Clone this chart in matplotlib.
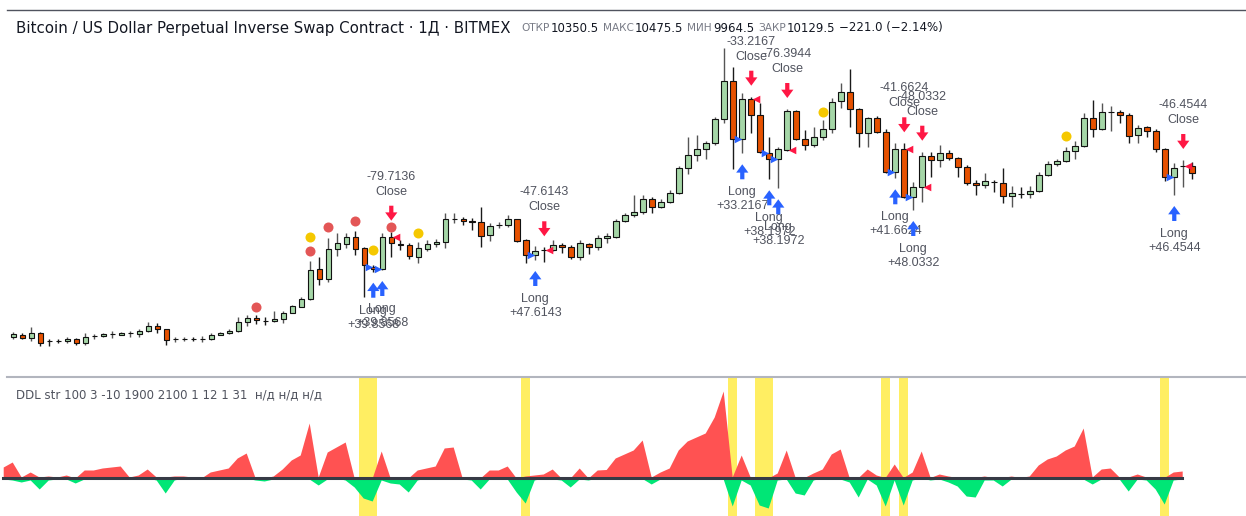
import matplotlib
matplotlib.use('Agg')
import matplotlib.pyplot as plt
import numpy as np
from matplotlib.lines import Line2D
from matplotlib.transforms import offset_copy

plt.rcParams['font.family'] = ['Liberation Sans', 'DejaVu Sans']

W, H = 1246, 516

# daily XBTUSD candles
opens = [5044, 5124, 5022, 5186, 4929, 4944, 4920, 4982, 4858, 5078,
         5084, 5140, 5124, 5162, 5146, 5230, 5394, 5292, 4976, 4997,
         5003, 4997, 5000, 5124, 5168, 5230, 5518, 5642, 5564, 5540,
         5602, 5806, 5992, 6222, 7161, 6851, 7781, 7936, 8153, 7812,
         7223, 7161, 8153, 7936, 7905, 7542, 7781, 7936, 7998, 8696,
         8720, 8658, 8618, 8206, 8510, 8516, 8702, 8060, 7586, 7750,
         7750, 7896, 7852, 7542, 7936, 7834, 8122, 8153, 8640, 8826,
         8928, 9322, 9074, 9238, 9508, 10292, 10704, 10872, 11058, 11802,
         12998, 11182, 12422, 11926, 10766, 10562, 10850, 12050, 11182, 11014,
         11244, 11510, 12360, 12648, 12130, 11368, 11842, 11418, 10177, 10872,
         9402, 9694, 10664, 10540, 10748, 10593, 10332, 9827, 9756, 9858,
         9836, 9424, 9490, 9477, 9570, 10075, 10416, 10518, 10828, 10983,
         11851, 11501, 12037, 12037, 11935, 11315, 11554, 11439, 10872, 10022,
         10340, 10350.5]
highs = [5208, 5168, 5363, 5208, 5000, 5000, 5044, 5022, 5168, 5146,
         5168, 5248, 5208, 5230, 5292, 5518, 5478, 5310, 5062, 5062,
         5053, 5084, 5168, 5208, 5292, 5682, 5726, 5726, 5664, 5868,
         5868, 6054, 6302, 7409, 7533, 8122, 8277, 8286, 8339, 7843,
         7285, 8268, 8317, 8060, 7967, 7998, 8060, 8100, 8888, 8888,
         8782, 8742, 9092, 8578, 8618, 8826, 8720, 8082, 7874, 7834,
         8060, 7976, 7896, 8060, 7958, 8206, 8286, 8702, 8888, 9446,
         9464, 9402, 9322, 9610, 10354, 11262, 11306, 11138, 11864, 14012,
         13414, 12608, 12502, 12298, 11244, 10952, 12121, 12090, 11470, 11554,
         11780, 12452, 12936, 13352, 12152, 11873, 11904, 11510, 11058, 11058,
         9867, 10797, 10797, 11005, 10850, 10633, 10385, 9920, 10128, 9920,
         10283, 9734, 9712, 9734, 10168, 10509, 10580, 10934, 11129, 11988,
         12400, 12298, 12223, 12090, 11988, 11625, 11594, 11492, 10912, 10438,
         10540, 10475.5]
lows = [4991, 5000, 4929, 4774, 4774, 4858, 4876, 4796, 4814, 5000,
        5062, 5022, 5106, 5062, 5062, 5208, 5186, 4814, 4898, 4929,
        4929, 4898, 4960, 5100, 5146, 5208, 5394, 5456, 5416, 5518,
        5478, 5788, 5974, 6200, 6665, 6758, 7564, 7803, 7595, 6293,
        7077, 7130, 7524, 7750, 7471, 7347, 7719, 7852, 7812, 8578,
        8516, 8370, 7852, 8020, 8432, 8472, 7998, 7338, 7440, 7378,
        7728, 7648, 7480, 7440, 7626, 7750, 7976, 8122, 8618, 8764,
        8866, 8888, 9052, 9207, 9486, 10106, 10500, 10562, 10996, 11678,
        10270, 10748, 11386, 10748, 9942, 9663, 10828, 11160, 10850, 10952,
        11160, 11368, 12152, 11572, 10952, 10934, 11377, 10128, 9973, 9353,
        8990, 9247, 10022, 10332, 10540, 10022, 9765, 9446, 9663, 9557,
        9216, 9074, 9353, 9353, 9548, 10053, 10354, 10487, 10562, 10952,
        11262, 11470, 11439, 11696, 11076, 11076, 11262, 10797, 9898, 9455,
        9712, 9964.5]
closes = [5146, 5022, 5186, 4876, 4914, 4929, 5000, 4858, 5062, 5084,
          5146, 5146, 5186, 5168, 5230, 5394, 5292, 4960, 4982, 5000,
          5000, 5000, 5124, 5186, 5230, 5518, 5642, 5580, 5558, 5602,
          5806, 6014, 6240, 7130, 6851, 7781, 7967, 8153, 7781, 7285,
          7161, 8153, 7967, 7920, 7564, 7812, 7936, 7998, 8702, 8702,
          8658, 8618, 8184, 8494, 8516, 8702, 8038, 7586, 7710, 7741,
          7914, 7834, 7542, 7958, 7834, 8122, 8184, 8649, 8826, 8928,
          9322, 9074, 9238, 9508, 10292, 10704, 10872, 11058, 11802, 12998,
          11182, 12422, 11926, 10788, 10580, 10872, 12050, 11182, 11014, 11244,
          11510, 12338, 12648, 12130, 11368, 11842, 11418, 10177, 10872, 9402,
          9694, 10664, 10540, 10748, 10593, 10332, 9818, 9765, 9880, 9849,
          9424, 9508, 9486, 9570, 10075, 10407, 10518, 10828, 10983, 11851,
          11501, 12019, 12040, 11935, 11284, 11541, 11439, 10872, 10022, 10283,
          10350, 10129.5]

# marker dots above the bars (0-based bar index, price level)
red_dot_bars = [27, 33, 35, 38, 42]
red_dot_prices = [5983, 7719, 8463, 8649, 8463]
yellow_dot_bars = [33, 40, 45, 90, 117]
yellow_dot_prices = [8153, 7750, 8277, 12028, 11284]

# strategy signals
long_bars = [40, 41, 58, 81, 84, 85, 98, 100, 129]
long_texts = ['+39.8568', '+39.8568', '+47.6143', '+33.2167', '+38.1972',
              '+38.1972', '+41.6624', '+48.0332', '+46.4544']
close_bars = [42, 59, 82, 86, 99, 101, 130]
close_texts = ['-79.7136', '-47.6143', '-33.2167', '-76.3944', '-41.6624',
               '-48.0332', '-46.4544']

# DDL indicator, lower pane
ddl_up = [1.1, 1.6, 0.1, 0.6, 0.1, 0.2, 0.1, 0.3, 0.0, 0.8,
          0.8, 1.0, 1.1, 1.2, 0.1, 0.3, 0.9, 0.1, 0.1, 0.2,
          0.2, 0.1, 0.0, 0.6, 0.8, 1.0, 2.0, 2.5, 0.0, 0.0,
          0.2, 0.9, 1.8, 2.3, 5.5, 0.1, 2.6, 3.1, 3.6, 0.0,
          0.0, 0.0, 2.7, 0.0, 0.0, 0.0, 0.8, 1.0, 1.2, 3.0,
          3.1, 0.0, 0.0, 0.0, 0.8, 0.8, 1.2, 0.0, 0.2, 0.3,
          0.4, 0.9, 0.0, 0.0, 1.0, 0.0, 0.8, 0.85, 2.0, 2.4,
          2.8, 3.8, 0.1, 0.6, 1.0, 2.8, 3.7, 4.1, 4.5, 6.1,
          8.7, 0.1, 2.3, 0.1, 0.0, 0.0, 0.5, 2.8, 0.05, 0.05,
          0.5, 0.9, 2.4, 2.9, 0.05, 0.05, 0.9, 0.3, 0.05, 1.4,
          0.05, 0.6, 2.7, 0.05, 0.4, 0.2, 0.05, 0.05, 0.05, 0.2,
          0.05, 0.05, 0.2, 0.05, 0.2, 1.3, 1.9, 2.2, 2.8, 3.2,
          5.0, 0.1, 0.9, 1.0, 0.1, 0.1, 0.4, 0.1, 0.05, 0.05,
          0.6, 0.7]
ddl_down = [-0.1, -0.2, -0.4, -0.2, -1.1, -0.2, -0.1, -0.1, -0.5, -0.1,
            0, 0, 0, 0, 0, 0, 0, -0.2, -1.5, -0.2,
            0, 0, 0, 0, 0, 0, 0, 0, -0.2, -0.3,
            -0.1, 0, 0, 0, -0.1, -0.7, -0.1, 0, -0.2, -0.9,
            -2.0, -2.3, -0.2, -0.5, -0.6, -1.4, -0.2, 0, 0, 0,
            0, -0.1, -0.2, -1.1, -0.1, 0, -0.1, -1.4, -2.5, -0.2,
            0, -0.1, -0.2, -0.9, -0.1, -0.2, 0, 0, 0, 0,
            0, -0.05, -0.6, -0.1, 0, 0, 0, 0, 0, 0,
            -0.1, -2.8, -0.2, -0.7, -2.7, -3.0, -0.2, -0.1, -1.5, -1.7,
            -0.2, 0, 0, -0.1, -0.4, -1.9, -0.1, -0.7, -2.8, -0.2,
            -2.7, -0.2, 0, -0.2, -0.1, -0.4, -0.8, -1.8, -1.9, -0.2,
            -0.2, -0.8, -0.1, 0, 0, 0, 0, 0, 0, 0,
            -0.1, -0.6, -0.1, 0, -0.1, -1.3, -0.1, -0.2, -1.1, -2.6,
            -0.2, -0.1]

title = 'Bitcoin / US Dollar Perpetual Inverse Swap Contract \u00b7 1\u0414 \u00b7 BITMEX'
ohlc_names = ['\u041e\u0422\u041a\u0420', '\u041c\u0410\u041a\u0421', '\u041c\u0418\u041d', '\u0417\u0410\u041a\u0420']
ohlc_vals = ['10350.5', '10475.5', '9964.5', '10129.5']
change_text = '\u2212221.0 (\u22122.14%)'
ddl_title = 'DDL str 100 3 -10 1900 2100 1 12 1 31  \u043d/\u0434 \u043d/\u0434 \u043d/\u0434'

GREEN = '#a5d6a7'
RED = '#e65100'
TXT = '#50535e'
BLUE_SIG = '#2962ff'
RED_SIG = '#ff1744'
HEAD_FONT = ['DejaVu Sans']

fig = plt.figure(figsize=(W / 100, H / 100), dpi=100)
fig.patch.set_facecolor('white')

ax = fig.add_axes([0, 1 - 376 / H, 1, 366 / H])
ax.set_xlim(-1.478, 136.97)
ax.set_ylim(3844, 15190)
ax.axis('off')

x = np.arange(len(opens))
o = np.array(opens); c = np.array(closes)
up = c >= o
wick_col = np.where(up, '#555555', '#1a1a1a')
ax.vlines(x, lows, highs, colors=wick_col, lw=1, zorder=2)
body_col = np.where(up, GREEN, RED)
ax.bar(x, np.abs(c - o), 0.62, bottom=np.minimum(o, c), color=body_col,
       edgecolor='#111111', linewidth=0.8, zorder=3)

ax.scatter(red_dot_bars, red_dot_prices, s=52, color='#e35656', zorder=4, lw=0)
ax.scatter(yellow_dot_bars, yellow_dot_prices, s=52, color='#f5c800', zorder=4, lw=0)


def shifted(dy):
    return offset_copy(ax.transData, fig=fig, x=0, y=dy, units='dots')


arrow_style = 'simple,head_length=0.75,head_width=1.1,tail_width=0.38'
for k, s in zip(long_bars, long_texts):
    lo = lows[k]
    ax.annotate('', xy=(k, lo), xycoords=shifted(-11), xytext=(k, lo), textcoords=shifted(-26),
                arrowprops=dict(arrowstyle=arrow_style, color=BLUE_SIG, shrinkA=0, shrinkB=0,
                                mutation_scale=8, lw=0))
    ax.text(k, lo, 'Long', transform=shifted(-39), ha='center', va='center', fontsize=9, color=TXT)
    ax.text(k, lo, s, transform=shifted(-53), ha='center', va='center', fontsize=9, color=TXT)
    ax.scatter([k - 0.48], [opens[k]], marker='>', s=30, color=BLUE_SIG, lw=0, zorder=5)

for k, s in zip(close_bars, close_texts):
    hi = highs[k]
    ax.annotate('', xy=(k, hi), xycoords=shifted(11), xytext=(k, hi), textcoords=shifted(26),
                arrowprops=dict(arrowstyle=arrow_style, color=RED_SIG, shrinkA=0, shrinkB=0,
                                mutation_scale=8, lw=0))
    ax.text(k, hi, 'Close', transform=shifted(40), ha='center', va='center', fontsize=9, color=TXT)
    ax.text(k, hi, s, transform=shifted(55), ha='center', va='center', fontsize=9, color=TXT)
    ax.scatter([k + 0.48], [opens[k]], marker='<', s=30, color=RED_SIG, lw=0, zorder=5)

# lower pane
ax2 = fig.add_axes([0, 0, 1, 139 / H])
ax2.set_xlim(-0.356, 138.09)
ax2.set_ylim(-3.8, 10.1)
ax2.axis('off')
j = np.arange(len(ddl_up))
for b in long_bars:
    ax2.axvspan(b - 0.5, b + 0.5, color='#ffee62', lw=0, zorder=1)
ax2.fill_between(j, 0, ddl_up, color='#ff5252', lw=0, zorder=2)
ax2.fill_between(j, 0, ddl_down, color='#00e676', lw=0, zorder=2)
ax2.plot([j[0], j[-1]], [0, 0], color='#363a45', lw=2.2, zorder=3)

# frame lines
fig.add_artist(Line2D([7 / W, 1], [1 - 10 / H] * 2, color='#50535e', lw=1))
fig.add_artist(Line2D([7 / W, 1], [1 - 376.5 / H] * 2, color='#b2b5be', lw=1.5))

# header
fig.canvas.draw()
r = fig.canvas.get_renderer()
t = fig.text(16 / W, 1 - 28 / H, title, fontsize=10.8, color='#131722', va='center',
             family=HEAD_FONT)
xpos = t.get_window_extent(r).x1 + 11
for name, val in zip(ohlc_names, ohlc_vals):
    t = fig.text(xpos / W, 1 - 28 / H, name, fontsize=7.6, color='#787b86', va='center',
                 family=HEAD_FONT)
    xpos = t.get_window_extent(r).x1 + 1
    t = fig.text(xpos / W, 1 - 28 / H, val, fontsize=8.5, color='#131722', va='center',
                 family=HEAD_FONT)
    xpos = t.get_window_extent(r).x1 + 4
fig.text(xpos / W, 1 - 28 / H, change_text, fontsize=8.5, color='#131722', va='center',
         family=HEAD_FONT)

fig.text(16 / W, 1 - 395 / H, ddl_title, fontsize=8.5, color='#50535e', va='center',
         family=HEAD_FONT)

fig.savefig('out.png', dpi=100)
